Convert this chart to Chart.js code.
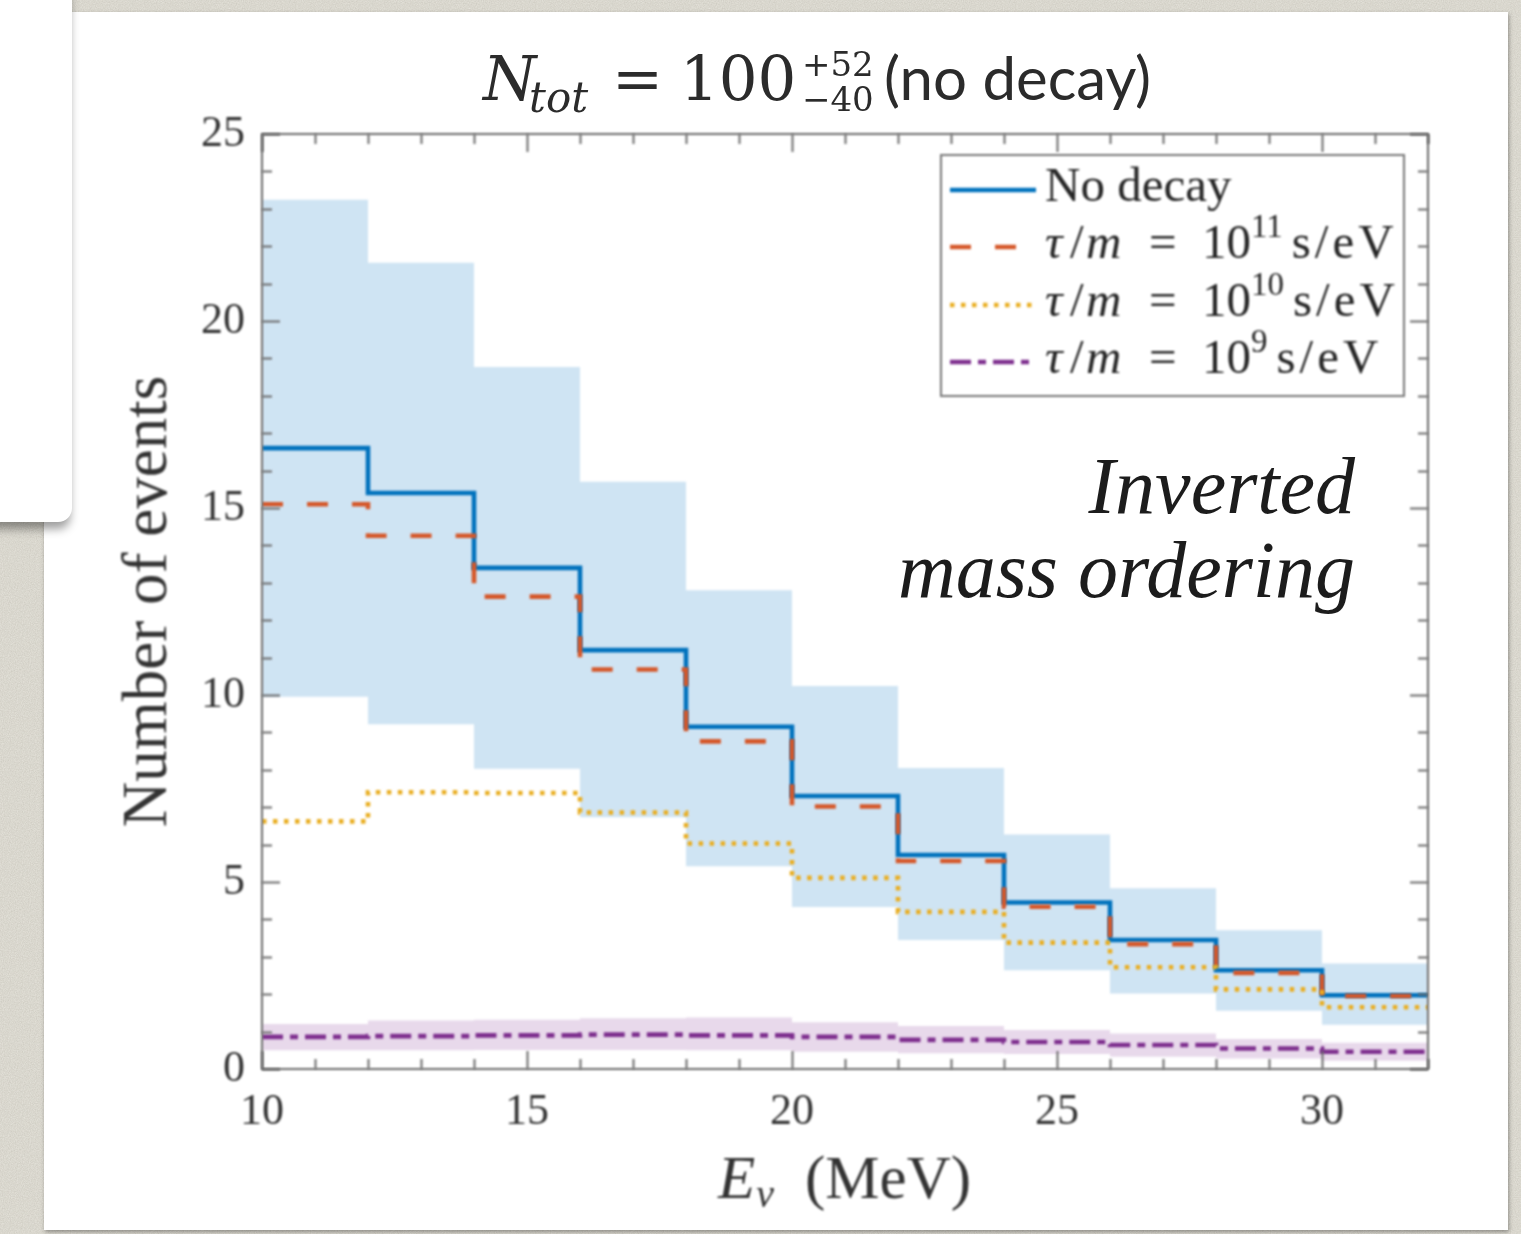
<!DOCTYPE html>
<html>
<head>
<meta charset="utf-8">
<script src="https://cdn.jsdelivr.net/npm/chart.js@4.4.1/dist/chart.umd.min.js"></script>
<style>
  html, body { margin: 0; padding: 0; width: 1521px; height: 1234px; overflow: hidden; }
  body {
    background-color: #e6e4dc;
    background-image: url("data:image/svg+xml,%3Csvg xmlns='http://www.w3.org/2000/svg' width='240' height='240'%3E%3Cfilter id='n'%3E%3CfeTurbulence type='fractalNoise' baseFrequency='0.85' numOctaves='3' stitchTiles='stitch'/%3E%3CfeColorMatrix values='0 0 0 0 0.42 0 0 0 0 0.40 0 0 0 0 0.34 0 0 0 0.45 0'/%3E%3C/filter%3E%3Crect width='240' height='240' filter='url(%23n)'/%3E%3C/svg%3E");
  }
  .card { position: absolute; background: #ffffff; }
  #main { left: 44px; top: 12px; width: 1464px; height: 1218px; box-shadow: 1px 2px 4px rgba(0,0,0,0.35); }
  #side { left: -20px; top: -20px; width: 92px; height: 542px; border-radius: 0 0 14px 0;
          box-shadow: 0 9px 10px -2px rgba(0,0,0,0.38); z-index: 2; }
  #plot { position: absolute; left: 0; top: 0; z-index: 3; }
</style>
</head>
<body>
<div class="card" id="main"></div>
<div class="card" id="side"></div>
<canvas id="plot" width="1521" height="1234"></canvas>
<script>
// Energy bins (MeV): left edges plus the final right edge
const binEdges = [10, 12, 14, 16, 18, 20, 22, 24, 26, 28, 30, 32];

// Events per bin, no decay, with its uncertainty band
const noDecay     = [16.6, 15.4, 13.4, 11.2, 9.15, 7.3, 5.72, 4.45, 3.45, 2.64, 1.97];
const noDecayLow  = [9.95, 9.22, 8.03, 6.73, 5.42, 4.33, 3.45, 2.64, 2.02, 1.56, 1.18];
const noDecayHigh = [23.24, 21.56, 18.77, 15.7, 12.8, 10.24, 8.05, 6.27, 4.83, 3.71, 2.82];

// Events per bin for decaying neutrinos, tau/m in s/eV
const tau1e11 = [15.1, 14.26, 12.63, 10.68, 8.76, 7.02, 5.56, 4.34, 3.34, 2.57, 1.95];
const tau1e10 = [6.62, 7.4, 7.38, 6.86, 6.03, 5.11, 4.2, 3.38, 2.72, 2.13, 1.65];
const tau1e9  = [0.86, 0.88, 0.9, 0.92, 0.9, 0.86, 0.78, 0.72, 0.64, 0.55, 0.46];
const tau1e9Low  = [0.5, 0.5, 0.51, 0.51, 0.5, 0.46, 0.42, 0.4, 0.33, 0.28, 0.22];
const tau1e9High = [1.2, 1.3, 1.32, 1.36, 1.38, 1.25, 1.15, 1.04, 0.95, 0.8, 0.7];

// Axis ticks
const xTickValues = [10, 15, 20, 25, 30];
const yTickValues = [0, 5, 10, 15, 20, 25];

// Text
const xTitleMain = 'E';
const xTitleSub = 'ν';
const xTitleUnit = '(MeV)';
const yTitle = 'Number of events';
const legendNoDecay = 'No decay';
const decayExponents = ['11', '10', '9'];
const annotationLines = ['Inverted', 'mass ordering'];

// Histogram points: one per left bin edge, last value repeated at the right edge
function histPoints(values) {
  return binEdges.map((x, i) => ({ x: x, y: values[Math.min(i, values.length - 1)] }));
}

const BLUE = '#0072BD', RED = '#D5582A', YELLOW = '#E9AE22', PURPLE = '#7E2F8E';
const LINE_W = 4.6;

const stepLine = (values, color, dash, order) => ({
  data: histPoints(values),
  stepped: 'before',
  borderColor: color,
  borderWidth: LINE_W,
  borderDash: dash,
  borderCapStyle: 'butt',
  fill: false,
  pointRadius: 0,
  order: order
});
const bandEdge = (values, fillColor, isUpper, order) => ({
  data: histPoints(values),
  stepped: 'before',
  borderColor: 'transparent',
  borderWidth: 0,
  backgroundColor: fillColor,
  fill: isUpper ? '+1' : false,
  pointRadius: 0,
  order: order
});

const datasets = [
  bandEdge(noDecayHigh, 'rgba(0,114,189,0.19)', true, 10),
  bandEdge(noDecayLow, 'rgba(0,114,189,0.19)', false, 10),
  bandEdge(tau1e9High, 'rgba(126,47,142,0.18)', true, 9),
  bandEdge(tau1e9Low, 'rgba(126,47,142,0.18)', false, 9),
  stepLine(noDecay, BLUE, [], 4),
  stepLine(tau1e11, RED, [21, 24], 3),
  stepLine(tau1e10, YELLOW, [4.5, 6.5], 2),
  stepLine(tau1e9, PURPLE, [21, 7, 8, 7], 1)
];
const legendRows = [4, 5, 6, 7];

// Slight softening of the plotted figure
const soften = {
  id: 'soften',
  beforeDraw(chart) { chart.ctx.filter = 'blur(0.8px)'; }
};

// Boxed axes with inward major and minor ticks on all four sides
const frame = {
  id: 'frame',
  afterDatasetsDraw(chart) {
    const { ctx, chartArea: a, scales: { x, y } } = chart;
    ctx.save();
    ctx.strokeStyle = '#6a6a6a';
    ctx.lineWidth = 2;
    ctx.beginPath();
    for (let v = Math.ceil(x.min); v <= x.max; v++) {
      const px = Math.round(x.getPixelForValue(v)) + 0.5;
      const len = xTickValues.includes(v) ? 18 : 10;
      ctx.moveTo(px, a.bottom); ctx.lineTo(px, a.bottom - len);
      ctx.moveTo(px, a.top); ctx.lineTo(px, a.top + len);
    }
    for (let v = Math.ceil(y.min); v <= y.max; v++) {
      const py = Math.round(y.getPixelForValue(v)) + 0.5;
      const len = yTickValues.includes(v) ? 18 : 10;
      ctx.moveTo(a.left, py); ctx.lineTo(a.left + len, py);
      ctx.moveTo(a.right, py); ctx.lineTo(a.right - len, py);
    }
    ctx.stroke();
    ctx.strokeRect(a.left, a.top, a.right - a.left, a.bottom - a.top);
    ctx.restore();
  }
};

function put(ctx, str, x, y, font, color, align) {
  ctx.font = font;
  ctx.fillStyle = color;
  ctx.textAlign = align || 'left';
  ctx.textBaseline = 'alphabetic';
  ctx.fillText(str, x, y);
  return ctx.measureText(str).width;
}

// Legend, x-axis title, chart title and the mass-ordering note
const decorations = {
  id: 'decorations',
  afterDraw(chart) {
    const ctx = chart.ctx;
    const serif = '"Liberation Serif", "Times New Roman", serif';
    const ink = '#262626';
    ctx.save();

    // legend box
    const lx = 941, ly = 155, lw = 463, lh = 241;
    ctx.fillStyle = '#ffffff';
    ctx.fillRect(lx, ly, lw, lh);
    ctx.strokeStyle = '#777777';
    ctx.lineWidth = 2;
    ctx.strokeRect(lx, ly, lw, lh);
    const rowY = [190, 247, 305, 362];
    legendRows.forEach((di, r) => {
      const ds = chart.data.datasets[di];
      ctx.save();
      ctx.strokeStyle = ds.borderColor;
      ctx.lineWidth = ds.borderWidth;
      ctx.setLineDash(ds.borderDash);
      ctx.beginPath();
      ctx.moveTo(950, rowY[r]);
      ctx.lineTo(1036, rowY[r]);
      ctx.stroke();
      ctx.restore();
      const base = rowY[r] + 11;
      const tx = 1045;
      if (r === 0) {
        put(ctx, legendNoDecay, tx, base, '49px ' + serif, ink);
      } else {
        put(ctx, 'τ', tx, base, 'italic 49px ' + serif, ink);
        put(ctx, '/', tx + 25, base, '49px ' + serif, ink);
        put(ctx, 'm', tx + 41, base, 'italic 49px ' + serif, ink);
        put(ctx, '=', tx + 104, base, '49px ' + serif, ink);
        put(ctx, '10', tx + 157, base, '49px ' + serif, ink);
        const ew = put(ctx, decayExponents[r - 1], tx + 206, base - 21, '33px ' + serif, ink);
        ctx.save();
        ctx.letterSpacing = '4px';
        put(ctx, 's/eV', tx + 206 + ew + 9, base, '49px ' + serif, ink);
        ctx.restore();
      }
    });

    // x-axis title
    const ex = 718, eb = 1198;
    const w1 = put(ctx, xTitleMain, ex, eb, 'italic 61px ' + serif, '#333');
    put(ctx, xTitleSub, ex + w1 + 1, eb + 9, 'italic 40px ' + serif, '#333');
    put(ctx, xTitleUnit, 805, eb, '61px ' + serif, '#333');

    // crisp slide text on top
    ctx.filter = 'none';
    const math = '"DejaVu Serif", serif';
    const tcol = '#2b2b2b';
    put(ctx, 'N', 483, 100, 'italic 61px ' + math, tcol);
    put(ctx, 'tot', 529, 112, 'italic 42px ' + math, tcol);
    put(ctx, '=', 612, 100, '61px ' + math, tcol);
    put(ctx, '100', 680, 100, '61px ' + math, tcol);
    put(ctx, '+52', 802, 76, '34px ' + math, tcol);
    put(ctx, '−40', 802, 111, '34px ' + math, tcol);
    put(ctx, '(no decay)', 884, 100, '60px Lato, "Open Sans", sans-serif', tcol);

    put(ctx, annotationLines[0], 1355, 513, 'italic 80px ' + serif, '#1c1c1c', 'right');
    put(ctx, annotationLines[1], 1355, 597, 'italic 80px ' + serif, '#1c1c1c', 'right');
    ctx.restore();
  }
};

const tickFont = { family: 'Liberation Serif', size: 44 };

new Chart(document.getElementById('plot'), {
  type: 'line',
  data: { datasets: datasets },
  options: {
    responsive: false,
    animation: false,
    devicePixelRatio: 1,
    parsing: true,
    layout: { padding: { left: 0, right: 93, top: 134, bottom: 0 } },
    elements: { line: { tension: 0 }, point: { radius: 0 } },
    plugins: { legend: { display: false }, tooltip: { enabled: false }, title: { display: false } },
    scales: {
      x: {
        type: 'linear',
        min: 10, max: 32,
        afterBuildTicks: (s) => { s.ticks = xTickValues.map(v => ({ value: v })); },
        afterFit: (s) => { s.height = 165; },
        grid: { display: false, drawTicks: false },
        border: { display: false },
        ticks: { font: tickFont, color: '#333', padding: 17, maxRotation: 0 }
      },
      y: {
        type: 'linear',
        min: 0, max: 25,
        afterBuildTicks: (s) => { s.ticks = yTickValues.map(v => ({ value: v })); },
        afterFit: (s) => { s.width = 262; },
        grid: { display: false, drawTicks: false },
        border: { display: false },
        ticks: { font: tickFont, color: '#333', padding: 17 },
        title: {
          display: true,
          text: yTitle,
          color: '#333',
          font: { family: 'Liberation Serif', size: 63 },
          padding: { top: 112, bottom: 0 }
        }
      }
    }
  },
  plugins: [soften, frame, decorations]
});
</script>
</body>
</html>
